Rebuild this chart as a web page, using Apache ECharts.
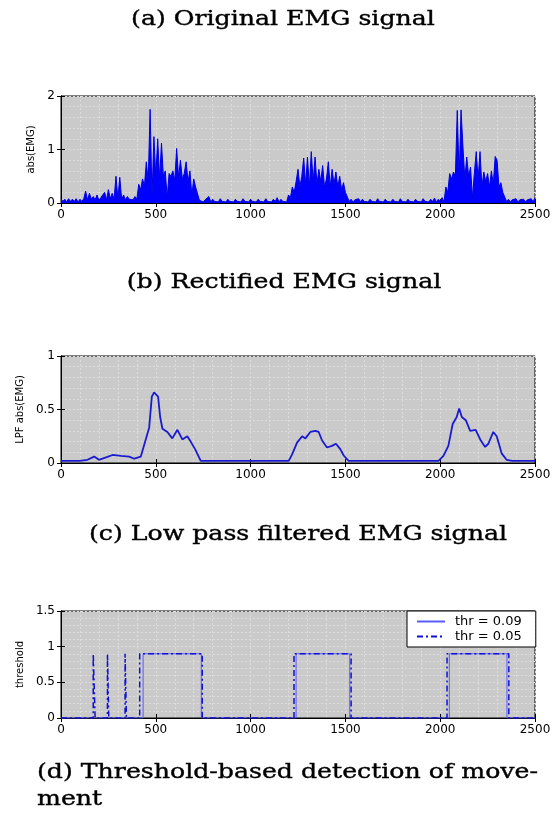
<!DOCTYPE html>
<html>
<head>
<meta charset="utf-8">
<script src="https://cdn.jsdelivr.net/npm/echarts@6/dist/echarts.min.js"></script>
<style>
  html, body { margin: 0; padding: 0; background: #fff; }
  #chart { width: 554px; height: 830px; }
</style>
</head>
<body>
<div id="chart"></div>
<script>
// (a) abs(EMG), one value every 10 samples (peaks and the dense body between them)
const emgStep = 10;
const emgAbs = [
  0.08,0.03,0.07,0.02,0.08,0.03,0.07,0.03,0.08,0.02,0.07,0.03,0.08,
  0.22,0.06,0.18,0.07,0.12,0.06,0.15,0.05,0.1,0.07,0.2,0.06,0.25,0.08,0.18,0.07,0.5,0.08,0.48,0.07,0.15,0.06,0.12,0.07,0.1,0.06,0.12,0.07,
  0.35,0.25,0.45,0.32,0.77,0.4,1.75,0.12,1.24,0.5,1.2,0.45,1.12,0.5,0.6,0.1,0.55,0.5,0.6,0.42,1.02,0.48,0.8,0.45,0.55,0.77,0.4,0.6,0.15,0.45,0.3,0.3,0.05,
  0.07,0.02,0.06,0.03,0.12,0.02,0.07,0.03,0.06,0.02,0.08,0.03,0.06,0.02,0.07,0.03,0.05,0.02,0.07,0.03,
  0.06,0.02,0.08,0.03,0.06,0.02,0.07,0.03,0.05,0.02,0.07,0.03,0.06,0.02,0.08,0.03,0.06,0.02,0.07,0.03,
  0.1,0.02,0.07,0.03,0.06,0.02,
  0.15,0.1,0.3,0.2,0.4,0.63,0.3,0.5,0.84,0.35,0.86,0.3,0.96,0.4,0.86,0.35,0.63,0.4,0.7,0.3,0.45,0.77,0.3,0.63,0.35,0.58,0.3,0.5,0.25,0.38,0.2,0.2,0.03,
  0.07,0.02,0.06,0.03,0.08,0.02,0.07,0.03,0.06,0.02,
  0.07,0.03,0.05,0.02,0.08,0.03,0.06,0.02,0.07,0.03,
  0.06,0.02,0.07,0.03,0.06,0.02,0.08,0.03,0.06,0.02,
  0.07,0.03,0.06,0.02,0.07,0.03,0.05,0.02,0.08,0.03,
  0.06,0.02,0.07,0.03,0.09,0.02,0.07,0.03,0.1,0.02,
  0.3,0.2,0.55,0.45,0.58,0.5,1.73,0.5,1.74,1.05,0.45,0.86,0.5,0.67,0.1,0.55,0.96,0.45,0.96,0.3,0.58,0.4,0.55,0.3,0.6,0.35,0.87,0.8,0.3,0.38,0.2,0.2,0.03,
  0.07,0.02,0.06,0.03,0.08,0.02,0.06,0.03,0.07,0.02,0.06,0.03,0.08,0.02,0.1
];

// (b) low pass filtered abs(EMG)
const lpfX = [0,50,100,140,175,200,245,272,316,360,386,421,442,465,479,491,512,523,535,561,
  587,614,640,666,684,710,737,760,1000,1201,1219,1245,1272,1289,1315,1342,1359,1377,1403,1429,
  1450,1473,1491,1517,1540,1800,1991,2017,2043,2066,2087,2100,2114,2135,2158,2187,2211,2237,2254,2280,
  2298,2324,2350,2380,2500];
const lpfY = [0.02,0.02,0.02,0.03,0.06,0.03,0.057,0.075,0.066,0.06,0.04,0.06,0.19,0.33,0.62,0.66,0.62,0.43,0.32,0.29,
  0.23,0.31,0.22,0.25,0.2,0.12,0.02,0.02,0.02,0.02,0.08,0.19,0.25,0.23,0.29,0.30,0.29,0.21,0.145,0.16,
  0.18,0.13,0.07,0.02,0.02,0.02,0.02,0.066,0.16,0.365,0.43,0.51,0.43,0.4,0.3,0.31,0.22,0.15,0.18,0.29,
  0.25,0.09,0.03,0.02,0.02];

// (c) threshold detection
const thr09X = [0,433,433,740,740,1240,1240,1523,1523,2048,2048,2352,2352,2500];
const thr09Y = [0,0,0.9,0.9,0,0,0.9,0.9,0,0,0.9,0.9,0,0];
const thr05X = [0,170,170,180,180,245,245,252,252,338,338,345,345,415,415,745,745,1229,1229,1530,1530,2036,2036,2362,2362,2500];
const thr05Y = [0,0,0.9,0.9,0,0,0.9,0.9,0,0,0.9,0.9,0,0,0.9,0.9,0,0,0.9,0.9,0,0,0.9,0.9,0,0];

const xTicks = [0, 2500, 500];
const captions = [
  '(a) Original EMG signal',
  '(b) Rectified EMG signal',
  '(c) Low pass filtered EMG signal',
  '(d) Threshold-based detection of move-',
  'ment'
];

const pairs = (xs, ys) => xs.map((x, i) => [x, ys[i]]);

const chart = echarts.init(document.getElementById('chart'), null, { renderer: 'canvas' });

const gridTops = [96, 356, 611];
const gridStyle = {
  left: 61, right: 19, height: 107,
  show: true, backgroundColor: '#cacaca', borderColor: '#000', borderWidth: 1
};
const tickFont = { color: '#000', fontSize: 12, fontFamily: 'DejaVu Sans' };
const dotted = { show: true, lineStyle: { color: '#dcdcdc', width: 1, type: [2, 2] } };
const tick = { inside: true, length: 4, lineStyle: { color: '#000' } };

function xAx(gi, top) {
  return {
    type: 'value', gridIndex: gi, position: top ? 'top' : 'bottom',
    min: xTicks[0], max: xTicks[1], interval: xTicks[2],
    axisLine: { show: true, lineStyle: { color: '#000' } },
    axisTick: tick,
    axisLabel: Object.assign({ show: !top, margin: 6, formatter: v => String(v) }, tickFont),
    splitLine: top ? { show: false } : dotted,
    minorTick: { show: false, splitNumber: 5 },
    minorSplitLine: top ? { show: false } : dotted
  };
}
function yAx(gi, max, interval, name, gap, right) {
  return {
    type: 'value', gridIndex: gi, position: right ? 'right' : 'left',
    min: 0, max: max, interval: interval,
    name: right ? '' : name, nameLocation: 'middle', nameGap: gap,
    nameTextStyle: { color: '#000', fontSize: 10, fontFamily: 'DejaVu Sans' },
    axisLine: { show: true, lineStyle: { color: '#000' } },
    axisTick: tick,
    axisLabel: Object.assign({ show: !right, margin: 6 }, tickFont),
    splitLine: right ? { show: false } : dotted,
    minorTick: { show: false, splitNumber: 5 },
    minorSplitLine: right ? { show: false } : dotted
  };
}

const capFont = { fontFamily: 'DejaVu Serif', fontSize: 21, fill: '#000', stroke: '#000', lineWidth: 0.4 };
function caption(text, x, y, align) {
  return { type: 'text', x: x, y: y, scaleX: 1.2, silent: true,
    style: Object.assign({ text: text, x: 0, y: 0, textAlign: align, textVerticalAlign: 'middle' }, capFont) };
}

const option = {
  animation: false,
  grid: gridTops.map(t => Object.assign({ top: t }, gridStyle)),
  xAxis: [xAx(0), xAx(1), xAx(2), xAx(0, true), xAx(1, true), xAx(2, true)],
  yAxis: [
    yAx(0, 2, 1, 'abs(EMG)', 16),
    yAx(1, 1, 0.5, 'LPF abs(EMG)', 33),
    yAx(2, 1.5, 0.5, 'threshold', 32),
    yAx(0, 2, 1, '', 0, true),
    yAx(1, 1, 0.5, '', 0, true),
    yAx(2, 1.5, 0.5, '', 0, true)
  ],
  legend: {
    data: ['thr = 0.09', 'thr = 0.05'],
    orient: 'vertical', left: 407, top: 611,
    backgroundColor: '#fff', borderColor: '#000', borderWidth: 1, borderRadius: 0,
    padding: [4, 14, 4, 9], itemGap: 2, itemWidth: 28, itemHeight: 14,
    itemStyle: { opacity: 0 },
    textStyle: { color: '#000', fontSize: 13, fontFamily: 'DejaVu Sans', padding: [0, 0, 0, 5] }
  },
  series: [
    {
      name: 'abs(EMG)', type: 'line', xAxisIndex: 0, yAxisIndex: 0,
      symbol: 'none', silent: true,
      lineStyle: { color: '#0000e0', width: 1 },
      areaStyle: { color: '#0000ff', opacity: 1 },
      data: emgAbs.map((v, i) => [i * emgStep, v])
    },
    {
      name: 'LPF abs(EMG)', type: 'line', xAxisIndex: 1, yAxisIndex: 1,
      symbol: 'none', silent: true,
      lineStyle: { color: '#1a1ad0', width: 1.8 },
      data: pairs(lpfX, lpfY)
    },
    {
      name: 'thr = 0.09', type: 'line', xAxisIndex: 2, yAxisIndex: 2,
      symbol: 'none', silent: true,
      itemStyle: { color: '#5a5aff' },
      lineStyle: { color: '#5a5aff', width: 1 },
      data: pairs(thr09X, thr09Y)
    },
    {
      name: 'thr = 0.05', type: 'line', xAxisIndex: 2, yAxisIndex: 2,
      symbol: 'none', silent: true,
      itemStyle: { color: '#1010d0' },
      lineStyle: { color: '#1010d0', width: 1.5, type: [6, 3, 2, 3] },
      data: pairs(thr05X, thr05Y)
    }
  ],
  graphic: [
    caption(captions[0], 283, 20, 'center'),
    caption(captions[1], 284, 283, 'center'),
    caption(captions[2], 298, 535, 'center'),
    caption(captions[3], 37, 773, 'left'),
    caption(captions[4], 37, 800, 'left')
  ]
};

chart.setOption(option);
</script>
</body>
</html>
